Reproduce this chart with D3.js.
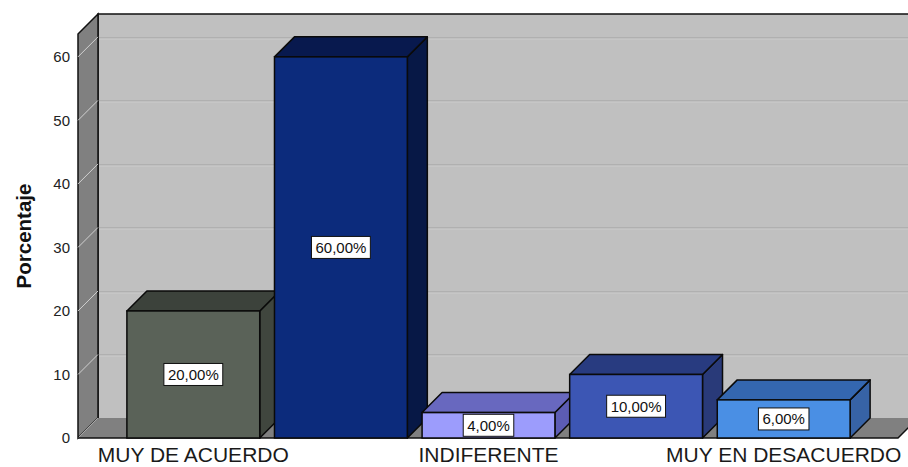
<!DOCTYPE html>
<html>
<head>
<meta charset="utf-8">
<script src="https://cdn.jsdelivr.net/npm/d3@7"></script>
<style>
  body { margin: 0; background: #fff; }
  svg { display: block; font-family: "Liberation Sans", Arial, sans-serif; }
</style>
</head>
<body>
<div id="vis"></div>
<script>
// data
const categories = ['MUY DE ACUERDO', 'DE ACUERDO', 'INDIFERENTE', 'EN DESACUERDO', 'MUY EN DESACUERDO'];
const percents = [20, 60, 4, 10, 6];
const yTicks = [0, 10, 20, 30, 40, 50, 60];
const frontColors = ['#5a6258', '#0c2b7c', '#9c9cfc', '#3c56b4', '#4a8fe4'];
const topColors = ['#3c423b', '#08194e', '#6868bf', '#283b80', '#3467b0'];
const sideColors = ['#40463e', '#071846', '#5c5cb4', '#293a79', '#3763a6'];

const width = 908;
const height = 467;

// depth of the 3d box
const dx = 20, dy = 20;
const yBase = 438;

const svg = d3.select('#vis')
  .append('svg')
  .attr('width', width)
  .attr('height', height);

const y = d3.scaleLinear()
  .domain([0, 63.6])
  .range([yBase, 34]);

const x = d3.scaleBand()
  .domain(categories)
  .range([90, 887])
  .paddingInner(0.1)
  .paddingOuter(0.25);

const floorLeft = 78, floorRight = 898;
const yTop = y(63.6);

// back wall
svg.append('rect')
  .attr('x', floorLeft + dx)
  .attr('y', yTop - dy)
  .attr('width', width)
  .attr('height', yBase - yTop)
  .attr('fill', '#c0c0c0');

// gridlines on the back wall
svg.selectAll('.grid')
  .data(yTicks.filter(d => d > 0))
  .enter().append('line')
  .attr('class', 'grid')
  .attr('x1', floorLeft + dx)
  .attr('x2', width)
  .attr('y1', d => Math.round(y(d) - dy) + 0.5)
  .attr('y2', d => Math.round(y(d) - dy) + 0.5)
  .attr('stroke', '#b0b0b0')
  .attr('stroke-width', 1);

svg.selectAll('.grid2')
  .data(yTicks.filter(d => d > 0))
  .enter().append('line')
  .attr('class', 'grid2')
  .attr('x1', floorLeft + dx)
  .attr('x2', width)
  .attr('y1', d => Math.round(y(d) - dy) + 2.5)
  .attr('y2', d => Math.round(y(d) - dy) + 2.5)
  .attr('stroke', '#c6c6c6')
  .attr('stroke-width', 1);

// top and left edges of back wall
svg.append('path')
  .attr('d', `M${floorLeft + dx},${yBase - dy}V${yTop - dy}H${width + 2}`)
  .attr('fill', 'none')
  .attr('stroke', '#111')
  .attr('stroke-width', 1.5);

// left side wall
svg.append('path')
  .attr('d', `M${floorLeft},${yTop}L${floorLeft + dx},${yTop - dy}V${yBase - dy}L${floorLeft},${yBase}Z`)
  .attr('fill', '#808080')
  .attr('stroke', '#111')
  .attr('stroke-width', 1.5);

// tick lines across the side wall
svg.selectAll('.sidetick')
  .data(yTicks)
  .enter().append('line')
  .attr('class', 'sidetick')
  .attr('x1', floorLeft)
  .attr('y1', d => y(d))
  .attr('x2', floorLeft + dx)
  .attr('y2', d => y(d) - dy)
  .attr('stroke', '#d0d0d0')
  .attr('stroke-width', 1);

// floor
svg.append('path')
  .attr('d', `M${floorLeft},${yBase}H${floorRight}L${floorRight + dx},${yBase - dy}H${floorLeft + dx}Z`)
  .attr('fill', '#808080');

svg.append('path')
  .attr('d', `M${floorLeft},${yBase}H${floorRight}L${floorRight + dx},${yBase - dy}`)
  .attr('fill', 'none')
  .attr('stroke', '#111')
  .attr('stroke-width', 1.5);

// y tick labels
svg.selectAll('.ytick')
  .data(yTicks)
  .enter().append('text')
  .attr('class', 'ytick')
  .attr('x', 70)
  .attr('y', d => y(d))
  .attr('dy', '0.35em')
  .attr('text-anchor', 'end')
  .attr('font-size', 15)
  .attr('fill', '#222')
  .text(d => d);

// y axis title
svg.append('text')
  .attr('transform', 'translate(31,236) rotate(-90)')
  .attr('text-anchor', 'middle')
  .attr('font-size', 20.5)
  .attr('font-weight', 'bold')
  .attr('fill', '#111')
  .text('Porcentaje');

// bars
const bars = svg.selectAll('.bar')
  .data(categories.map((c, i) => ({ name: c, value: percents[i], i: i })))
  .enter().append('g')
  .attr('class', 'bar');

bars.append('path')
  .attr('d', d => {
    let x0 = x(d.name) + x.bandwidth();
    return `M${x0},${y(d.value)}L${x0 + dx},${y(d.value) - dy}V${yBase - dy}L${x0},${yBase}Z`;
  })
  .attr('fill', d => sideColors[d.i])
  .attr('stroke', '#0a0a0a')
  .attr('stroke-width', 1.5)
  .attr('stroke-linejoin', 'round');

bars.append('path')
  .attr('d', d => {
    let x0 = x(d.name), x1 = x0 + x.bandwidth(), yv = y(d.value);
    return `M${x0},${yv}L${x0 + dx},${yv - dy}H${x1 + dx}L${x1},${yv}Z`;
  })
  .attr('fill', d => topColors[d.i])
  .attr('stroke', '#0a0a0a')
  .attr('stroke-width', 1.5)
  .attr('stroke-linejoin', 'round');

bars.append('rect')
  .attr('x', d => x(d.name))
  .attr('y', d => y(d.value))
  .attr('width', x.bandwidth())
  .attr('height', d => yBase - y(d.value))
  .attr('fill', d => frontColors[d.i])
  .attr('stroke', '#0a0a0a')
  .attr('stroke-width', 1.5);

// value labels
const labels = bars.append('g')
  .attr('transform', d => `translate(${x(d.name) + x.bandwidth() / 2},${(y(d.value) + yBase) / 2})`);

labels.append('text')
  .attr('text-anchor', 'middle')
  .attr('dy', '0.36em')
  .attr('font-size', 15)
  .attr('fill', '#111')
  .text(d => d3.format('.2f')(d.value).replace('.', ',') + '%');

labels.each(function () {
  let g = d3.select(this);
  let bb = g.select('text').node().getBBox();
  g.insert('rect', 'text')
    .attr('x', bb.x - 4)
    .attr('y', -11)
    .attr('width', bb.width + 8)
    .attr('height', 22)
    .attr('fill', '#fff')
    .attr('stroke', '#111')
    .attr('stroke-width', 1);
});

// category labels, every other one like the original
svg.selectAll('.xlabel')
  .data(categories.filter((c, i) => i % 2 === 0))
  .enter().append('text')
  .attr('class', 'xlabel')
  .attr('x', d => x(d) + x.bandwidth() / 2)
  .attr('y', 462)
  .attr('text-anchor', 'middle')
  .attr('font-size', 21)
  .attr('fill', '#1a1a1a')
  .text(d => d);
</script>
</body>
</html>
